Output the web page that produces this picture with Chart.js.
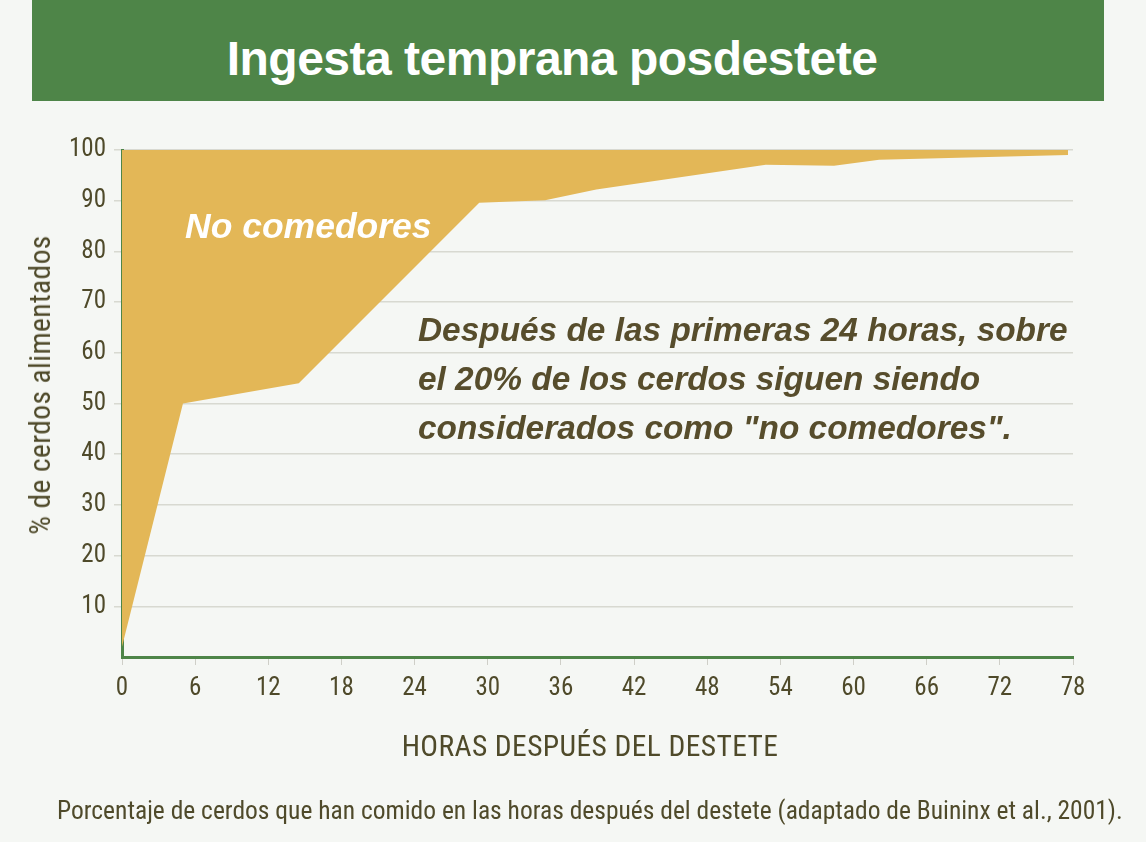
<!DOCTYPE html>
<html>
<head>
<meta charset="utf-8">
<script src="https://cdn.jsdelivr.net/npm/chart.js@4.4.0/dist/chart.umd.min.js"></script>
<style>
  html, body { margin: 0; padding: 0; background: #f5f7f4; }
  #wrap { position: relative; width: 1146px; height: 842px; overflow: hidden; background: #f5f7f4; }
  #band { position: absolute; left: 32px; top: 0; width: 1072px; height: 101px; background: #4e8548; }
  #title { position: absolute; left: 552px; top: 58px; transform: translate(-50%, -50%); color: #fff; white-space: nowrap;
    font: bold 48px "Liberation Sans", Arial, sans-serif; letter-spacing: -0.5px; }
  canvas { position: absolute; left: 0; top: 0; }
  .cond { font-family: "Roboto Condensed", "Liberation Sans Narrow", "Liberation Sans", sans-serif; color: #4f4a2a; }
  #ytitle { position: absolute; left: 40px; top: 385px; transform: translate(-50%, -50%) rotate(-90deg);
    font-size: 29.5px; letter-spacing: 0.4px; white-space: nowrap; }
  #xtitle { position: absolute; left: 590px; top: 746px; transform: translate(-50%, -50%); font-size: 29.5px; letter-spacing: 0.4px; white-space: nowrap; }
  #caption { position: absolute; left: 57px; top: 810px; transform: translateY(-50%); font-size: 25.5px; white-space: nowrap; }
  #noeat { position: absolute; left: 185px; top: 226px; transform: translateY(-50%); color: #fff;
    font: italic bold 35.5px "Liberation Sans", Arial, sans-serif; white-space: nowrap; }
  #note { position: absolute; left: 418px; top: 305px; color: #574d2c;
    font: italic bold 33.4px "Liberation Sans", Arial, sans-serif; line-height: 49px; white-space: nowrap; }
</style>
</head>
<body>
<div id="wrap">
  <div id="band"></div>
  <div id="title">Ingesta temprana posdestete</div>
  <canvas id="chart" width="1146" height="842"></canvas>
  <div id="ytitle" class="cond">% de cerdos alimentados</div>
  <div id="xtitle" class="cond">HORAS DESPUÉS DEL DESTETE</div>
  <div id="caption" class="cond">Porcentaje de cerdos que han comido en las horas después del destete (adaptado de Buininx et al., 2001).</div>
  <div id="noeat">No comedores</div>
  <div id="note">Después de las primeras 24 horas, sobre<br>el 20% de los cerdos siguen siendo<br>considerados como "no comedores".</div>
</div>
<script>
// hours after weaning and % of pigs that have eaten
const hours = [0, 5, 14.5, 29.3, 34.7, 38.9, 52.8, 58.4, 62.1, 77.6];
const fedPct = [2, 50, 54, 89.6, 90.1, 92.2, 97.1, 96.9, 98.1, 99];
const xTicks = [0, 6, 12, 18, 24, 30, 36, 42, 48, 54, 60, 66, 72, 78];
const yTicks = [10, 20, 30, 40, 50, 60, 70, 80, 90, 100];

const green = '#4e8548';
const tickFont = { family: '"Roboto Condensed", "Liberation Sans Narrow", "Liberation Sans", sans-serif', size: 25 };

const ctx = document.getElementById('chart').getContext('2d');
const myChart = new Chart(ctx, {
    type: 'line',
    data: {
        datasets: [{
            label: '% alimentados',
            data: hours.map((h, i) => ({ x: h, y: fedPct[i] })),
            borderWidth: 0,
            pointRadius: 0,
            tension: 0,
            backgroundColor: '#e3b757',
            fill: { value: 100 }
        }]
    },
    options: {
        responsive: false,
        animation: false,
        layout: { padding: { top: 150, right: 73, left: 0, bottom: 0 } },
        plugins: { legend: { display: false }, tooltip: { enabled: false } },
        scales: {
            x: {
                type: 'linear',
                min: 0,
                max: 78,
                z: 1,
                afterBuildTicks: (s) => { s.ticks = xTicks.map(v => ({ value: v })); },
                afterFit: (s) => { s.height = 185; },
                border: { color: green, width: 3 },
                grid: { display: true, drawOnChartArea: false, tickLength: 8, color: '#cfcfc8' },
                ticks: { color: '#4f4a2a', font: tickFont, padding: 9, maxRotation: 0, autoSkip: false }
            },
            y: {
                min: 0,
                max: 100,
                z: 1,
                afterBuildTicks: (s) => { s.ticks = yTicks.map(v => ({ value: v })); },
                afterFit: (s) => { s.width = 122; },
                border: { color: green, width: 3 },
                grid: { color: 'rgba(140,140,120,0.28)', lineWidth: 1.5, tickLength: 8 },
                ticks: { color: '#4f4a2a', font: tickFont, padding: 8 }
            }
        }
    }
});
</script>
</body>
</html>
